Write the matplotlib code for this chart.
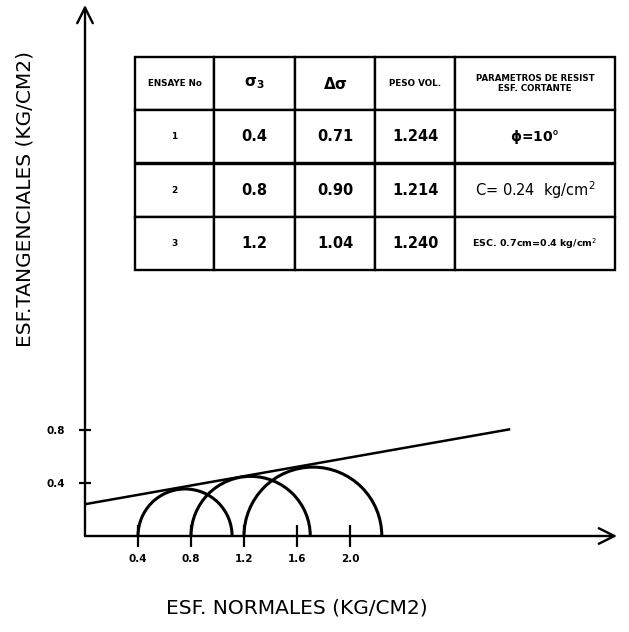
import numpy as np
import matplotlib
matplotlib.use("Agg")
import matplotlib.pyplot as plt
from matplotlib.patches import Arc

# ---- data ----
sigma3 = [0.4, 0.8, 1.2]
delta_sigma = [0.71, 0.90, 1.04]
peso_vol = ["1.244", "1.214", "1.240"]
ensaye = ["1", "2", "3"]
cohesion = 0.24
phi_deg = 10.0
envelope_end = 3.2
xticks = [0.4, 0.8, 1.2, 1.6, 2.0]
xtick_labels = ["0.4", "0.8", "1.2", "1.6", "2.0"]
yticks = [0.4, 0.8]
ytick_labels = ["0.4", "0.8"]
col_headers = ["ENSAYE No", r"$\mathbf{\sigma}_{\mathbf{3}}$", r"$\mathbf{\Delta\sigma}$", "PESO VOL.",
               "PARAMETROS DE RESIST\nESF. CORTANTE"]
params_col = [r"$\mathbf{\phi}$=10°", "C= 0.24  kg/cm$^2$", "ESC. 0.7cm=0.4 kg/cm$^2$"]

W, H = 629, 632
fig = plt.figure(figsize=(W / 100, H / 100), dpi=100)
x0, x1, y0, y1 = 85, 617, 536, 5
ax = fig.add_axes([x0 / W, (H - y0) / H, (x1 - x0) / W, (y0 - y1) / H])
scale = 132.5
ax.set_xlim(0, (x1 - x0) / scale)
ax.set_ylim(0, (y0 - y1) / scale)
for s in ax.spines.values():
    s.set_visible(False)

# axes with arrows
xmax = ax.get_xlim()[1]
ymax = ax.get_ylim()[1]
ax.annotate("", xy=(xmax, 0), xytext=(0, 0),
            arrowprops=dict(arrowstyle="->", lw=1.7, color="black", mutation_scale=28,
                            shrinkA=0, shrinkB=0))
ax.annotate("", xy=(0, ymax), xytext=(0, 0),
            arrowprops=dict(arrowstyle="->", lw=1.7, color="black", mutation_scale=28,
                            shrinkA=0, shrinkB=0))

ax.set_xticks(xticks)
ax.set_xticklabels(xtick_labels, fontsize=7.5, fontweight="bold")
ax.set_yticks(yticks)
ax.set_yticklabels(ytick_labels, fontsize=7.5, fontweight="bold")
ax.tick_params(axis="x", direction="inout", length=16, width=1.6, pad=5)
ax.tick_params(axis="y", direction="inout", length=9, width=1.6, pad=10)

# Mohr circles
for s3, ds in zip(sigma3, delta_sigma):
    s1 = s3 + ds
    arc = Arc(((s1 + s3) / 2, 0), ds, ds, theta1=0, theta2=180, lw=2.2, color="black")
    ax.add_patch(arc)

# failure envelope
xs = np.array([0.0, envelope_end])
ax.plot(xs, cohesion + np.tan(np.radians(phi_deg)) * xs, color="black", lw=1.8)

# table
rows = []
for i in range(3):
    rows.append([ensaye[i], f"{sigma3[i]:.1f}", f"{delta_sigma[i]:.2f}", peso_vol[i], params_col[i]])
cell_text = [col_headers] + rows
bx0 = (135 - x0) / (x1 - x0)
bw = (615 - 135) / (x1 - x0)
by0 = (y0 - 270) / (y0 - y1)
bh = (270 - 57) / (y0 - y1)
tbl = ax.table(cellText=cell_text, cellLoc="center",
               colWidths=[79, 81, 80, 80, 160],
               bbox=[bx0, by0, bw, bh])
tbl.auto_set_font_size(False)
for (r, c), cell in tbl.get_celld().items():
    cell.set_linewidth(1.7)
    cell.set_edgecolor("black")
    t = cell.get_text()
    t.set_fontweight("bold")
    if r == 0:
        if c in (1, 2):
            t.set_fontsize(11)
        elif c == 4:
            t.set_fontsize(6.2)
        else:
            t.set_fontsize(6.3)
    else:
        if c == 0:
            t.set_fontsize(6.5)
        elif c == 4:
            if r == 3:
                t.set_fontsize(6.8)
            elif r == 1:
                t.set_fontsize(10)
            else:
                t.set_fontsize(10.5)
                t.set_fontweight("normal")
        else:
            t.set_fontsize(10.5)

fig.text(25 / W, 1 - 199 / H, "ESF.TANGENCIALES (KG/CM2)", rotation=90,
         ha="center", va="center", fontsize=14.5)
fig.text(297 / W, 1 - 608 / H, "ESF. NORMALES (KG/CM2)",
         ha="center", va="center", fontsize=14.5)

fig.savefig("out.png", dpi=100)
